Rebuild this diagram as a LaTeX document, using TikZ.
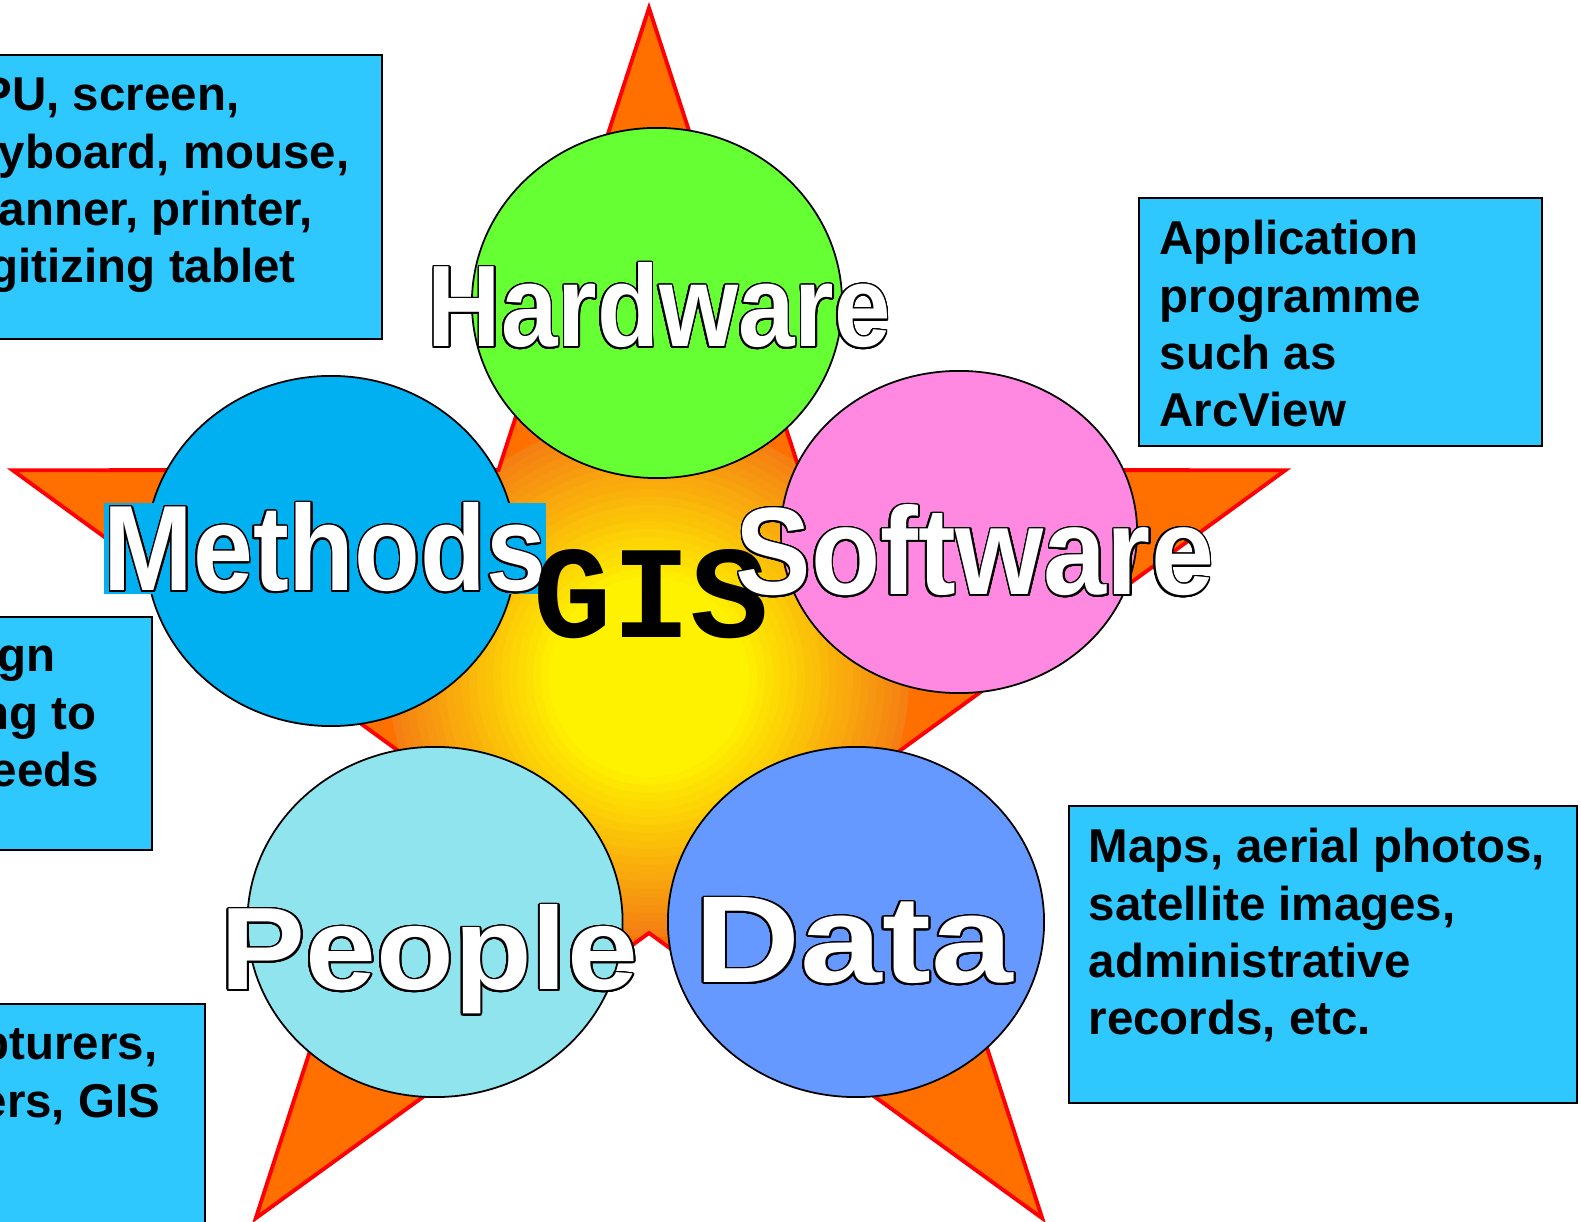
\documentclass[tikz,border=0pt]{standalone}
\usepackage{fontspec}
\setmainfont{Liberation Sans}
\newfontfamily\gisfont{Liberation Mono}
\usepackage{graphicx}
\usepackage{contour}
\contourlength{0.6pt}
\contournumber{24}
\usetikzlibrary{shapes.geometric}

\definecolor{hwgreen}{HTML}{66FF33}
\definecolor{meblue}{HTML}{00B0F0}
\definecolor{swpink}{HTML}{FF88E0}
\definecolor{pecyan}{HTML}{90E4EE}
\definecolor{dablue}{HTML}{6699FF}
\definecolor{boxblue}{HTML}{2EC8FF}
\definecolor{starorange}{HTML}{FF7000}

\newcommand{\bigword}[3]{\resizebox{#1}{#2}{\fontsize{40}{40}\selectfont\bfseries\contour{black}{#3}}}
\newcommand{\boxlines}[1]{\parbox[t]{6cm}{\raggedright #1}}

\tikzset{
    blob/.style={ellipse, draw=black, line width=0.5pt, inner sep=0pt},
    infobox/.style={rectangle, draw=black, line width=0.6pt, fill=boxblue, inner sep=0pt, anchor=north west},
    infotext/.style={anchor=base west, inner sep=0pt, font=\fontsize{13.5}{16.3}\selectfont\bfseries},
    biglabel/.style={anchor=base west, inner sep=0pt, text=white},
    staredge/.style={draw=red, line width=1.1pt, line join=miter}
}

\begin{document}
\begin{tikzpicture}[x=0.01cm,y=-0.01cm]
    \useasboundingbox (0,0) rectangle (1581,1222);
    \begin{scope}[shift={(649,677)}]
        \coordinate (core) at (0,0);
        \begin{scope}
            \clip (-90:669) \foreach \k in {0,...,3} { -- (-54+72*\k:256) -- (-18+72*\k:669) } -- (234:256) -- cycle;
            \fill[starorange] (core) circle (700);
            \foreach \r in {268,260,...,100} {
                \pgfmathtruncatemacro\p{(268-\r)/1.68}
                \fill[yellow!\p!starorange] (core) circle (\r);
            }
        \end{scope}
        \draw[staredge] (-90:669) \foreach \k in {0,...,3} { -- (-54+72*\k:256) -- (-18+72*\k:669) } -- (234:256) -- cycle;
    \end{scope}

    \foreach \name/\col/\pos/\w/\h in {hardware/hwgreen/{657,303}/3.70/3.50, methods/meblue/{331,551}/3.70/3.50,
        software/swpink/{959,532}/3.56/3.22, people/pecyan/{435,922}/3.75/3.50, data/dablue/{856,922}/3.76/3.50} {
        \node[blob, fill=\col, minimum width=\w cm, minimum height=\h cm] (\name) at (\pos) {};
    }

    \node[infobox, minimum width=4.01cm, minimum height=2.84cm] (hwbox) at (-20,54) {};
    \node[infobox, minimum width=1.71cm, minimum height=2.33cm] (mebox) at (-20,616) {};
    \node[infobox, minimum width=2.24cm, minimum height=2.40cm] (pebox) at (-20,1003) {};
    \node[infobox, minimum width=4.03cm, minimum height=2.48cm] (swbox) at (1138,197) {};
    \node[infobox, minimum width=5.08cm, minimum height=2.97cm] (dabox) at (1068,805) {};

    \node[infotext] (hwtext) at (0,111) {\boxlines{\hspace*{-0.2cm}PU, screen,\\\hspace*{-0.02cm}yboard, mouse,\\\hspace*{-0.02cm}anner, printer,\\\hspace*{-0.11cm}gitizing tablet}};
    \node[infotext] (metext) at (-3,672) {\boxlines{gn\\\hspace*{-0.17cm}ng to\\\hspace*{-0.07cm}eeds}};
    \node[infotext] (petext) at (-20,1060) {\boxlines{pturers,\\ers, GIS}};
    \node[infotext] (swtext) at (1159,255) {\boxlines{Application\\programme\\such as\\ArcView}};
    \node[infotext] (datext) at (1088,863) {\boxlines{Maps, aerial photos,\\satellite images,\\administrative\\records, etc.}};

    \node[biglabel] (hwlabel) at (427,347) {\bigword{4.63cm}{0.84cm}{Hardware}};
    \node[biglabel, fill=meblue] (melabel) at (103,591) {\bigword{4.42cm}{0.88cm}{Methods}};
    \node[anchor=base west, inner sep=0pt, font=\gisfont\bfseries] (gislabel) at (533,638) {\resizebox{2.35cm}{0.88cm}{GIS}};
    \node[biglabel] (swlabel) at (735,595) {\bigword{4.78cm}{0.90cm}{Software}};
    \node[biglabel] (pelabel) at (220,990) {\bigword{4.17cm}{0.85cm}{People}};
    \node[biglabel] (dalabel) at (694,983) {\bigword{3.18cm}{0.85cm}{Data}};
\end{tikzpicture}
\end{document}
